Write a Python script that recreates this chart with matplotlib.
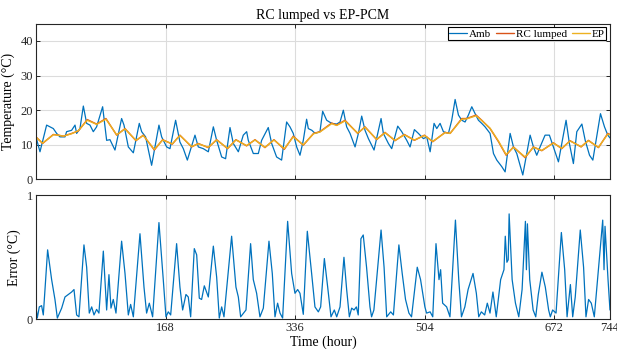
import numpy as np
import matplotlib
matplotlib.use('Agg')
import matplotlib.pyplot as plt

plt.rcParams['font.family'] = ['Liberation Serif', 'DejaVu Serif']
plt.rcParams['mathtext.fontset'] = 'stix'

# ---------------- data (hour, value) ----------------
amb_h = [0, 5.2, 13.8, 22.5, 26.8, 31.1, 37.6, 39.7, 46.2, 50.6, 52.7, 57.0, 61.4, 65.7,
         70.0, 74.3, 78.6, 86.4, 91.6, 95.9, 102.4, 111.0, 114.1, 119.7, 126.2, 133.9,
         137.0, 142.1, 149.9, 159.4, 162.9, 169.4, 173.7, 181.0, 186.6, 191.0, 196.2,
         206.1, 210.4, 216.9, 223.4, 229.9, 234.2, 240.7, 245.8, 251.5, 255.8, 262.3,
         268.7, 273.1, 275.2, 281.7, 288.2, 292.5, 301.1, 305.5, 311.9, 318.4, 324.9,
         329.2, 333.5, 337.9, 342.2, 346.5, 350.8, 353.0, 357.6, 361.9, 368.1, 371.6,
         376.8, 383.3, 389.8, 394.1, 398.4, 402.7, 407.1, 413.6, 417.9, 422.2, 426.5,
         430.9, 438.2, 447.3, 450.3, 456.8, 461.1, 468.9, 474.1, 480.6, 484.9, 490.5,
         495.7, 502.2, 506.5, 510.9, 516.0, 519.5, 523.8, 528.1, 534.6, 538.9, 543.3,
         547.6, 551.9, 556.2, 560.5, 564.9, 569.2, 573.5, 577.8, 582.1, 588.6, 593.0,
         597.3, 603.8, 608.1, 614.6, 618.9, 623.2, 631.0, 640.5, 644.8, 649.1, 653.4,
         659.9, 665.5, 670.7, 677.2, 687.1, 691.4, 696.6, 701.0, 707.6, 711.9, 717.5,
         721.8, 731.7, 736.9, 741.2, 744]
amb_t = [12.3, 8.0, 15.7, 14.7, 13.3, 12.3, 12.3, 13.8, 14.2, 15.7, 13.3, 14.7, 21.2, 16.2,
         15.7, 13.8, 15.2, 21.0, 11.3, 11.5, 8.5, 17.6, 15.7, 9.4, 7.7, 16.2,
         13.8, 12.3, 4.1, 15.7, 12.3, 9.4, 8.9, 17.1, 10.8, 8.9, 5.6,
         12.8, 9.4, 8.9, 8.0, 15.2, 11.3, 6.5, 6.0, 15.0, 10.4, 8.0,
         12.8, 13.8, 11.3, 7.5, 7.5, 11.3, 15.0, 10.4, 6.5, 5.6, 16.6,
         15.2, 13.3, 9.4, 7.0, 11.3, 17.4, 14.7, 14.2, 13.3, 13.8, 19.7,
         17.1, 16.2, 16.0, 16.6, 20.0, 15.2, 13.3, 9.4, 13.3, 18.3, 14.2,
         11.8, 8.5, 17.6, 13.3, 10.4, 8.9, 15.4, 13.8, 11.3, 9.4, 14.4,
         13.3, 11.8, 12.3, 8.0, 16.2, 14.7, 16.2, 13.8, 13.3, 17.1, 23.1,
         18.6, 17.1, 16.6, 18.6, 21.0, 19.0, 17.1, 16.2, 15.2, 13.3, 7.5,
         5.6, 3.7, 2.2, 13.3, 9.4, 7.5, 1.3, 12.8, 9.4, 7.0, 9.4,
         12.8, 12.8, 9.4, 5.1, 17.1, 10.4, 4.6, 13.8, 16.0, 11.3, 7.0,
         5.6, 19.0, 15.2, 12.8, 12.0]

rc_h = [0, 8.6, 22.5, 29.0, 35.4, 46.2, 54.9, 66.5, 78.6, 90.7, 104.6, 115.4, 129.6, 139.1,
        153.4, 164.2, 176.7, 186.6, 201.8, 210.4, 223.4, 234.2, 248.4, 259.2, 273.0, 283.9,
        296.8, 308.5, 321.9, 333.5, 346.5, 359.8, 368.0, 383.3, 389.8, 400.6, 417.0, 426.5,
        441.6, 452.4, 465.4, 477.5, 490.5, 503.5, 514.3, 530.3, 536.8, 551.9, 558.4, 570.5,
        577.8, 588.6, 599.5, 609.4, 618.9, 634.0, 644.8, 655.6, 670.7, 681.5, 692.3, 706.6,
        716.1, 729.1, 741.2, 744]
rc_t = [12.3, 10.4, 13.0, 12.8, 12.5, 13.3, 14.0, 17.3, 16.0, 17.6, 12.8, 14.7, 11.2, 12.8,
        8.5, 11.5, 10.2, 12.8, 9.4, 10.4, 9.2, 11.5, 8.9, 11.5, 9.7, 11.5,
        9.2, 11.5, 8.7, 12.5, 9.9, 13.3, 13.8, 16.3, 15.7, 17.1, 13.3, 15.2,
        11.5, 13.6, 11.2, 13.0, 11.3, 12.8, 10.9, 13.6, 13.3, 17.6, 17.6, 18.6,
        17.1, 14.7, 10.9, 7.0, 9.4, 6.3, 9.4, 8.3, 10.6, 8.9, 11.2, 9.4,
        11.3, 9.2, 13.3, 13.0]
ep_t = [12.2, 10.5, 12.9, 12.8, 12.5, 13.2, 14.1, 17.1, 15.9, 17.4, 12.9, 14.6, 11.3, 12.7,
        8.7, 11.4, 10.3, 12.7, 9.5, 10.3, 9.3, 11.4, 9.0, 11.4, 9.8, 11.4,
        9.3, 11.4, 8.9, 12.3, 10.0, 13.2, 13.7, 16.1, 15.6, 16.9, 13.4, 15.1,
        11.6, 13.5, 11.3, 12.9, 11.4, 12.7, 11.0, 13.5, 13.3, 17.4, 17.5, 18.4,
        17.0, 14.8, 11.1, 7.2, 9.3, 6.5, 9.3, 8.4, 10.5, 9.0, 11.1, 9.5,
        11.2, 9.3, 13.1, 12.9]

err_h = [0, 1.7, 4.3, 7.3, 9.5, 15.1, 20.3, 24.6, 27.7, 33.3, 37.6, 41.9, 46.2, 49.3, 52.7,
         55.7, 62.2, 65.7, 69.1, 72.2, 75.2, 78.6, 81.6, 87.3, 91.6, 94.6, 97.2, 100.2,
         103.7, 111.0, 115.4, 119.7, 122.7, 126.2, 134.8, 140.0, 143.4, 146.9, 151.2,
         159.4, 165.0, 168.5, 171.5, 174.6, 182.3, 186.6, 190.1, 194.4, 197.4, 200.5,
         205.2, 208.3, 211.7, 214.7, 218.2, 223.4, 229.9, 234.2, 237.6, 240.7, 243.7,
         253.6, 259.2, 262.3, 265.3, 272.2, 278.2, 281.7, 286.0, 290.3, 294.7, 302.0,
         306.3, 309.8, 313.2, 316.3, 319.7, 326.2, 331.4, 335.7, 339.2, 342.2, 346.5,
         351.7, 357.3, 361.6, 366.0, 369.0, 373.8, 378.1, 382.4, 386.7, 389.8, 394.1,
         399.2, 402.7, 406.2, 409.2, 412.3, 415.3, 417.7, 421.2, 424.2, 428.5, 432.9,
         435.0, 438.0, 447.3, 451.2, 454.6, 459.8, 463.3, 470.4, 474.7, 479.0, 483.4,
         486.8, 494.2, 498.5, 504.1, 506.3, 510.9, 514.3, 518.5, 522.4, 524.5, 527.1,
         532.3, 536.6, 543.7, 548.0, 551.5, 555.9, 560.1, 566.5, 570.8, 573.9, 577.3,
         581.6, 585.0, 588.5, 592.3, 596.6, 602.3, 606.6, 608.3, 610.4, 612.1, 613.3,
         617.2, 621.5, 625.8, 630.1, 634.4, 635.7, 637.0, 640.0, 644.4, 647.8, 651.1,
         655.8, 660.2, 664.5, 666.7, 669.7, 674.1, 681.0, 685.3, 688.4, 692.7, 695.7,
         699.0, 705.5, 709.8, 712.9, 716.3, 719.8, 723.7, 734.6, 736.3, 737.6, 741.5,
         744]
err_v = [0.10, 0.01, 0.10, 0.11, 0.035, 0.56, 0.32, 0.16, 0.01, 0.09, 0.18, 0.20, 0.22, 0.24,
         0.035, 0.02, 0.60, 0.42, 0.05, 0.10, 0.035, 0.08, 0.05, 0.55, 0.075, 0.36, 0.09, 0.16,
         0.05, 0.63, 0.37, 0.035, 0.12, 0.02, 0.69, 0.26, 0.05, 0.13, 0.02,
         0.78, 0.32, 0.02, 0.06, 0.035, 0.61, 0.26, 0.075, 0.20, 0.18, 0.02,
         0.57, 0.52, 0.17, 0.16, 0.27, 0.18, 0.59, 0.34, 0.01, 0.10, 0.02,
         0.67, 0.26, 0.18, 0.02, 0.075, 0.61, 0.32, 0.21, 0.02, 0.09, 0.63,
         0.37, 0.02, 0.13, 0.05, 0.01, 0.79, 0.37, 0.21, 0.24, 0.21, 0.04,
         0.71, 0.37, 0.10, 0.06, 0.10, 0.49, 0.26, 0.02, 0.075, 0.02, 0.10,
         0.50, 0.24, 0.02, 0.09, 0.075, 0.10, 0.035, 0.65, 0.68, 0.42, 0.10,
         0.02, 0.075, 0.72, 0.42, 0.02, 0.06, 0.035, 0.60, 0.37, 0.16, 0.05,
         0.02, 0.42, 0.32, 0.10, 0.05, 0.06, 0.02, 0.61, 0.32, 0.40, 0.13,
         0.10, 0.02, 0.80, 0.32, 0.02, 0.10, 0.24, 0.37, 0.21, 0.02, 0.06,
         0.035, 0.13, 0.05, 0.22, 0.02, 0.32, 0.40, 0.67, 0.46, 0.48, 0.85,
         0.32, 0.13, 0.02, 0.24, 0.79, 0.40, 0.77, 0.32, 0.075, 0.02, 0.20,
         0.38, 0.26, 0.075, 0.02, 0.075, 0.05, 0.70, 0.40, 0.02, 0.28, 0.02,
         0.18, 0.72, 0.42, 0.02, 0.16, 0.13, 0.02, 0.80, 0.40, 0.75, 0.32,
         0.075]

xticks = [168, 336, 504, 672, 744]

# ---------------- styling ----------------
c_amb = '#0072BD'
c_rc = '#D95319'
c_ep = '#EDB120'
axcol = '#262626'

fig = plt.figure(figsize=(6.17, 3.56), dpi=100)
ax1 = fig.add_axes([0.0583, 0.4958, 0.9303, 0.4379])
ax2 = fig.add_axes([0.0583, 0.1031, 0.9303, 0.3483])

kw = dict(solid_joinstyle='round', solid_capstyle='round')
ax1.plot(amb_h, amb_t, color=c_amb, lw=0.9, label='Amb', **kw)
ax1.plot(rc_h, rc_t, color=c_rc, lw=1.0, label='RC lumped', **kw)
ax1.plot(rc_h, ep_t, color=c_ep, lw=1.0, label='EP', **kw)
ax1.set_xlim(0, 744)
ax1.set_ylim(0, 45)
ax1.set_yticks([0, 10, 20, 30, 40])
ax1.set_xticks(xticks)
ax1.set_xticklabels([])
ax1.set_ylabel('Temperature (°C)', fontsize=10)
ax1.set_title('RC lumped vs EP-PCM', fontsize=10, pad=3)
ax1.grid(True, color='#dcdcdc', lw=0.8)
leg = ax1.legend(loc='upper right', ncol=3, fontsize=8, fancybox=False,
                 edgecolor='black', framealpha=1, borderpad=0.12, handlelength=1.6,
                 handletextpad=0.15, columnspacing=0.5, borderaxespad=0.35)
leg.get_frame().set_linewidth(0.8)

ax2.plot(err_h, err_v, color=c_amb, lw=0.9, **kw)
ax2.set_xlim(0, 744)
ax2.set_ylim(0, 1)
ax2.set_yticks([0, 1])
ax2.set_xticks(xticks)
ax2.set_xticklabels([str(t) for t in xticks])
ax2.set_ylabel('Error (°C)', fontsize=10)
ax2.set_xlabel('Time (hour)', fontsize=10, labelpad=1)
ax2.grid(True, axis='x', color='#dcdcdc', lw=0.8)

for ax in (ax1, ax2):
    ax.set_axisbelow(True)
    for s in ax.spines.values():
        s.set_color(axcol)
        s.set_linewidth(0.8)
    ax.tick_params(direction='in', top=True, right=True, length=3, width=0.7,
                   colors=axcol, labelsize=9, pad=2)

fig.savefig('out.png', dpi=100)
